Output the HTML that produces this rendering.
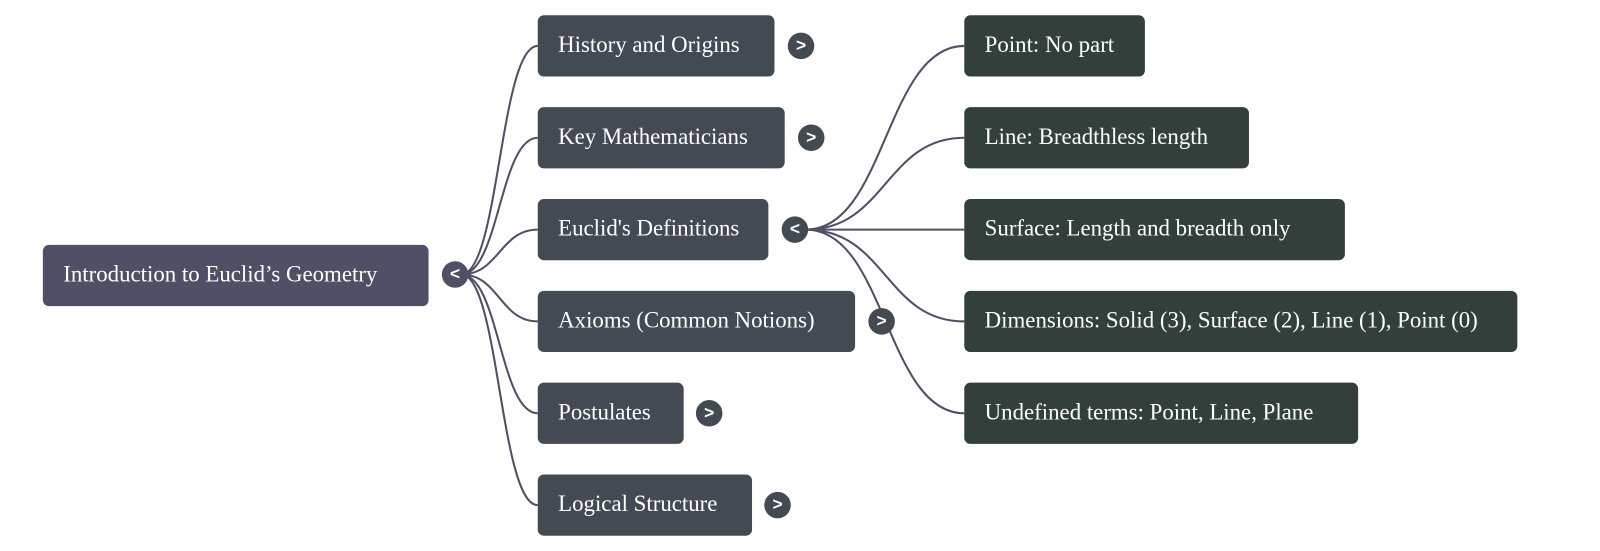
<!DOCTYPE html>
<html><head><meta charset="utf-8"><style>
body{margin:0;width:1600px;height:551px;background:#fff;position:relative;overflow:hidden;font-family:"Liberation Serif",serif;}
#w{position:absolute;left:0;top:0;width:1568px;height:540px;transform:scale(1.0204);transform-origin:0 0;}
.b{position:absolute;height:60px;border-radius:6px;color:#fff;font-size:22.4px;line-height:58px;padding-left:20px;box-sizing:border-box;white-space:nowrap;}
.r{background:#4f5066}.l1{background:#434a54}.l2{background:#323f3a}
.c{position:absolute;width:26px;height:26px;border-radius:50%;background:#434a54;color:#fff;font:bold 17px/26px "Liberation Sans",sans-serif;text-align:center;}
svg{position:absolute;left:0;top:0}
</style></head><body><div id="w">
<svg width="1568" height="540" fill="none" stroke="#4f5066" stroke-width="2">
<path d="M452 269 C489 269 490 45 527 45"/>
<path d="M452 269 C489 269 490 135 527 135"/>
<path d="M452 269 C489 269 490 225 527 225"/>
<path d="M452 269 C489 269 490 315 527 315"/>
<path d="M452 269 C489 269 490 405 527 405"/>
<path d="M452 269 C489 269 490 495 527 495"/>
<path d="M790 225 C868 225 868 45 945 45"/>
<path d="M790 225 C868 225 868 135 945 135"/>
<path d="M790 225 L945 225"/>
<path d="M790 225 C868 225 868 315 945 315"/>
<path d="M790 225 C868 225 868 405 945 405"/>
</svg>
<div class="b r" style="left:42px;top:240px;width:378px">Introduction to Euclid’s Geometry</div>
<div class="c" style="left:433px;top:256px;background:#4f5066">&lt;</div>
<div class="b l1" style="left:527px;top:15px;width:232px">History and Origins</div>
<div class="c" style="left:772px;top:32px">&gt;</div>
<div class="b l1" style="left:527px;top:105px;width:242px">Key Mathematicians</div>
<div class="c" style="left:782px;top:122px">&gt;</div>
<div class="b l1" style="left:527px;top:195px;width:226px">Euclid's Definitions</div>
<div class="c" style="left:766px;top:212px">&lt;</div>
<div class="b l1" style="left:527px;top:285px;width:311px">Axioms (Common Notions)</div>
<div class="c" style="left:851px;top:302px">&gt;</div>
<div class="b l1" style="left:527px;top:375px;width:143px">Postulates</div>
<div class="c" style="left:682px;top:392px">&gt;</div>
<div class="b l1" style="left:527px;top:465px;width:210px">Logical Structure</div>
<div class="c" style="left:749px;top:482px">&gt;</div>
<div class="b l2" style="left:945px;top:15px;width:177px">Point: No part</div>
<div class="b l2" style="left:945px;top:105px;width:279px">Line: Breadthless length</div>
<div class="b l2" style="left:945px;top:195px;width:373px">Surface: Length and breadth only</div>
<div class="b l2" style="left:945px;top:285px;width:542px">Dimensions: Solid (3), Surface (2), Line (1), Point (0)</div>
<div class="b l2" style="left:945px;top:375px;width:386px">Undefined terms: Point, Line, Plane</div>
</div></body></html>
